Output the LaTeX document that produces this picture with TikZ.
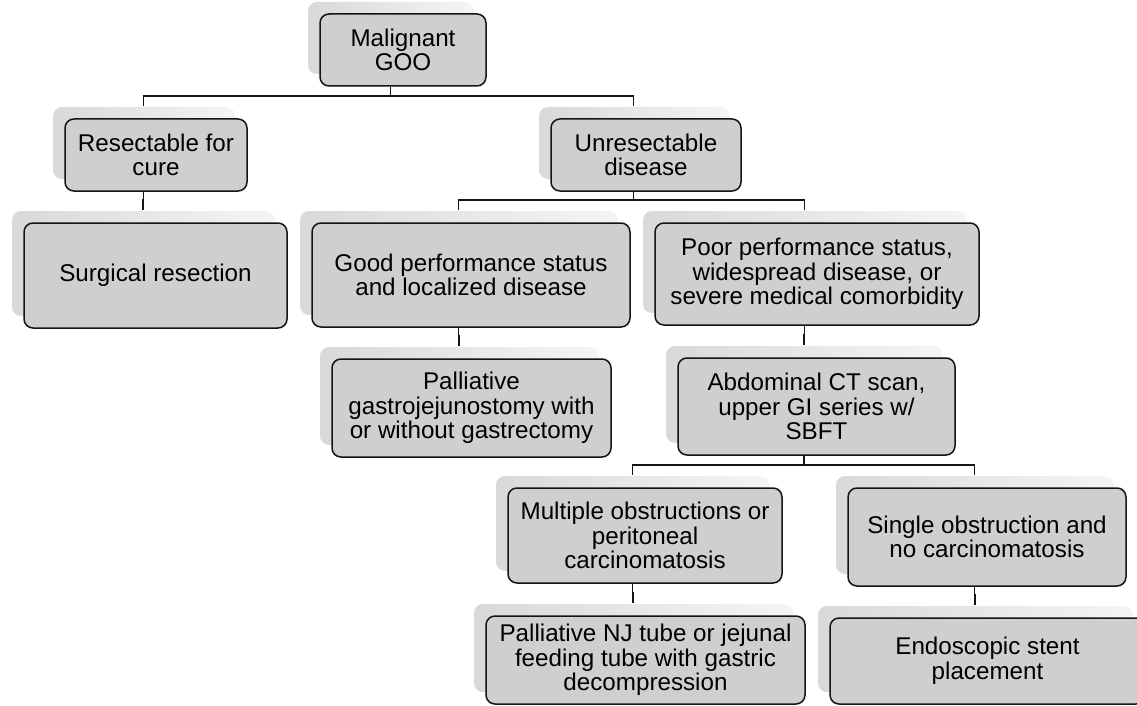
\documentclass[tikz,border=0pt]{standalone}
\usepackage{fontspec}
\setmainfont{Liberation Sans}
\usetikzlibrary{shadows}

\definecolor{boxgray}{RGB}{207,207,207}
\definecolor{edgegray}{RGB}{20,20,20}

\tikzset{
	box/.style={draw=edgegray, line width=1.5pt, fill=boxgray, rounded corners=9pt,
		align=center, inner sep=2pt, font=\fontsize{24.2}{24.6}\selectfont,
		general shadow={left color=black!15, right color=black!4, shadow xshift=-12pt, shadow yshift=12pt}},
	link/.style={draw=edgegray, line width=1.6pt}
}

\begin{document}
\begin{tikzpicture}[x=1pt, y=-1pt]
	\useasboundingbox (0, 0) rectangle (1137, 706);
	\clip (0, 0) rectangle (1137, 706);
	\node [box, minimum width=166, minimum height=72] (goo) at (403, 50) {Malignant\\GOO};
	\node [box, minimum width=182, minimum height=72] (res) at (156, 155) {Resectable for\\cure};
	\node [box, minimum width=190, minimum height=72] (unres) at (646, 155) {Unresectable\\disease};
	\node [box, minimum width=263, minimum height=105] (surg) at (155.5, 275.5) {Surgical resection};
	\node [box, minimum width=318, minimum height=104] (good) at (471, 275) {Good performance status\\and localized disease};
	\node [box, minimum width=324, minimum height=102] (poor) at (817, 274) {Poor performance status,\\widespread disease, or\\severe medical comorbidity};
	\node [box, minimum width=279, minimum height=98] (gastro) at (471.5, 408) {Palliative\\gastrojejunostomy with\\or without gastrectomy};
	\node [box, minimum width=277, minimum height=97] (abd) at (816.5, 406.5) {Abdominal CT scan,\\upper GI series w/\\SBFT};
	\node [box, minimum width=274, minimum height=95] (mult) at (645, 535.5) {Multiple obstructions or\\peritoneal\\carcinomatosis};
	\node [box, minimum width=278, minimum height=98] (single) at (987, 537) {Single obstruction and\\no carcinomatosis};
	\node [box, minimum width=319, minimum height=88] (nj) at (645.5, 660) {Palliative NJ tube or jejunal\\feeding tube with gastric\\decompression};
	\node [box, minimum width=315, minimum height=86] (endo) at (987.5, 661) {Endoscopic stent\\placement};
	\foreach \n in {goo, res, unres, surg, good, poor, gastro, abd, mult, single, nj, endo} {
		\coordinate (\n-in) at ([shift={(-12.5pt, 12pt)}]\n.north);
		\coordinate (\n-out) at ([xshift=-12.5pt]\n.south);
	}
	\foreach \a/\b in {goo/res, goo/unres, res/surg, unres/good, unres/poor, good/gastro,
		poor/abd, abd/mult, abd/single, mult/nj, single/endo}
		\draw [link] (\a-out) |- ([yshift=10pt]\b-in) -| (\b-in);
\end{tikzpicture}
\end{document}
